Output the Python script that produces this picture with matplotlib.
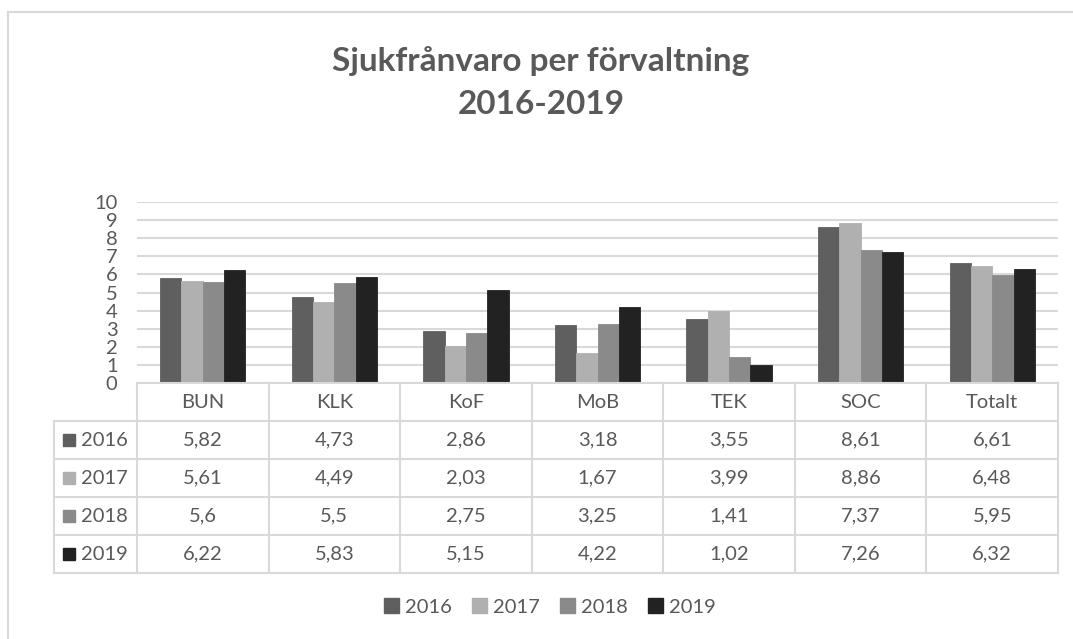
import matplotlib
matplotlib.use("Agg")
import matplotlib.pyplot as plt
from matplotlib.lines import Line2D
from matplotlib.patches import Patch, Rectangle
import numpy as np

categories = ["BUN", "KLK", "KoF", "MoB", "TEK", "SOC", "Totalt"]
years = ["2016", "2017", "2018", "2019"]
v2016 = [5.82, 4.73, 2.86, 3.18, 3.55, 8.61, 6.61]
v2017 = [5.61, 4.49, 2.03, 1.67, 3.99, 8.86, 6.48]
v2018 = [5.60, 5.50, 2.75, 3.25, 1.41, 7.37, 5.95]
v2019 = [6.22, 5.83, 5.15, 4.22, 1.02, 7.26, 6.32]
labels2016 = ["5,82", "4,73", "2,86", "3,18", "3,55", "8,61", "6,61"]
labels2017 = ["5,61", "4,49", "2,03", "1,67", "3,99", "8,86", "6,48"]
labels2018 = ["5,6", "5,5", "2,75", "3,25", "1,41", "7,37", "5,95"]
labels2019 = ["6,22", "5,83", "5,15", "4,22", "1,02", "7,26", "6,32"]
yticks = [0, 1, 2, 3, 4, 5, 6, 7, 8, 9, 10]

series = [v2016, v2017, v2018, v2019]
series_labels = [labels2016, labels2017, labels2018, labels2019]
colors = ["#5f5f5f", "#b0b0b0", "#8a8a8a", "#222222"]
text_color = "#595959"
grid_color = "#d9d9d9"
FONT = ["Lato", "DejaVu Sans"]
plt.rcParams["font.family"] = FONT

W, H = 1073, 639
fig = plt.figure(figsize=(W / 100, H / 100), dpi=100)

def fx(px):
    return px / W

def fy(py):
    return 1 - py / H

# outer border
fig.add_artist(Line2D([fx(8), 1.0], [fy(12), fy(12)], color=grid_color, lw=1.5))
fig.add_artist(Line2D([fx(8), fx(8)], [0.0, fy(12)], color=grid_color, lw=1.5))

# title
fig.text(fx(541), fy(61), "Sjukfrånvaro per förvaltning", ha="center", va="center",
         fontsize=24, fontweight="bold", color=text_color)
fig.text(fx(541), fy(104), "2016-2019", ha="center", va="center",
         fontsize=24, fontweight="bold", color=text_color)

# main axes
left_px, right_px, top_px, base_px = 137, 1058, 202, 383
ax = fig.add_axes([fx(left_px), fy(base_px), fx(right_px) - fx(left_px), fy(top_px) - fy(base_px)])
n = len(categories)
x = np.arange(n)
bw = 0.162
for i, (vals, c, yr) in enumerate(zip(series, colors, years)):
    ax.bar(x + (i - 1.5) * bw, vals, width=bw, color=c, edgecolor=c, linewidth=0.6, zorder=3, label=yr)
ax.set_xlim(-0.5, n - 0.5)
ax.set_ylim(0, 10)
ax.set_yticks(yticks)
ax.set_yticklabels([str(t) for t in yticks])
ax.yaxis.grid(True, color=grid_color, lw=1.5, zorder=0)
ax.set_axisbelow(True)
ax.set_xticks([])
for s in ax.spines.values():
    s.set_visible(False)
ax.tick_params(axis="y", length=0, pad=14, labelsize=14.5, labelcolor=text_color)
for lab in ax.get_yticklabels():
    lab.set_fontfamily(FONT)

# data table
table_bottom_px = 573
tax = fig.add_axes([fx(left_px), fy(table_bottom_px), fx(right_px) - fx(left_px), fy(base_px) - fy(table_bottom_px)])
tax.set_xlim(-0.5, n - 0.5)
tax.set_ylim(5, 0)
tax.axis("off")
col_w_px = (right_px - left_px) / n
xl = -0.5 - (left_px - 54) / col_w_px
lk = dict(color=grid_color, lw=1.5, clip_on=False, solid_capstyle="projecting")
for j in range(n + 1):
    tax.plot([j - 0.5, j - 0.5], [0, 5], **lk)
tax.plot([xl, xl], [1, 5], **lk)
tax.plot([-0.5, n - 0.5], [0, 0], **lk)
for r in range(1, 6):
    tax.plot([xl, n - 0.5], [r, r], **lk)
fs_tab = 14.5
for j, cat in enumerate(categories):
    tax.text(j, 0.5, cat, ha="center", va="center", fontsize=fs_tab, color=text_color)
for r, (labs, c, yr) in enumerate(zip(series_labels, colors, years), start=1):
    for j, lab in enumerate(labs):
        tax.text(j, r + 0.5, lab, ha="center", va="center", fontsize=fs_tab, color=text_color)
    sq = 12 / col_w_px
    tax.add_patch(Rectangle((xl + 9 / col_w_px, r + 0.5 - 0.16), sq, 0.32, color=c, clip_on=False))
    tax.text(xl + 27 / col_w_px, r + 0.5, yr, ha="left", va="center", fontsize=fs_tab, color=text_color)

# legend
handles = [Patch(facecolor=c, edgecolor=c) for c in colors]
leg = fig.legend(handles, years, loc="center", bbox_to_anchor=(fx(550), fy(607)), ncol=4,
                 frameon=False, fontsize=14.5, handlelength=0.75, handleheight=0.75,
                 handletextpad=0.3, columnspacing=1.0)
for t in leg.get_texts():
    t.set_color(text_color)

fig.savefig("out.png", dpi=100)
